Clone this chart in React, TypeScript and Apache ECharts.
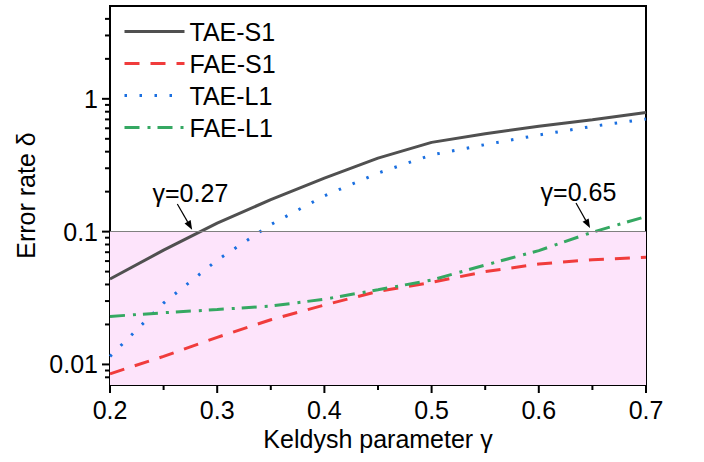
import React, { useEffect, useRef } from "react";
import * as echarts from "echarts";

const gammaValues = [0.2, 0.25, 0.3, 0.35, 0.4, 0.45, 0.5, 0.55, 0.6, 0.65, 0.7];
const taeS1 = [0.044, 0.0725, 0.116, 0.174, 0.253, 0.358, 0.47, 0.546, 0.621, 0.695, 0.79];
const faeS1 = [0.0085, 0.0115, 0.016, 0.0217, 0.028, 0.0355, 0.0415, 0.05, 0.057, 0.0615, 0.064];
const taeL1 = [0.0115, 0.029, 0.061, 0.113, 0.186, 0.276, 0.378, 0.452, 0.534, 0.62, 0.705];
const faeL1 = [0.023, 0.0245, 0.0259, 0.0275, 0.031, 0.0365, 0.0432, 0.056, 0.072, 0.099, 0.13];

const seriesNames = ["TAE-S1", "FAE-S1", "TAE-L1", "FAE-L1"];
const yMinValue = 0.007;
const yMaxValue = 5;
const thresholdValue = 0.1;
const majorTicks = [0.01, 0.1, 1];
const minorTicks = [0.008, 0.009, 0.02, 0.03, 0.04, 0.05, 0.06, 0.07, 0.08, 0.09, 0.2, 0.3, 0.4, 0.5, 0.6, 0.7, 0.8, 0.9, 2, 3, 4];
const xMajorTicks = [0.2, 0.3, 0.4, 0.5, 0.6, 0.7];
const xMinorTicks = [0.25, 0.35, 0.45, 0.55, 0.65];
const annotations = [
  { text: "γ=0.27", labelAt: [0.275, 0.195], from: [0.2628, 0.1615], to: [0.2766, 0.1035] },
  { text: "γ=0.65", labelAt: [0.637, 0.2], from: [0.6347, 0.1645], to: [0.6478, 0.1066] },
];

const FONT = "'Liberation Sans', Arial, sans-serif";
const FS = 25;
const lg = (v: number) => Math.log10(v);

export default function App() {
  const ref = useRef<HTMLDivElement>(null);
  useEffect(() => {
    if (!ref.current) return;
    const chart = echarts.init(ref.current, null, { renderer: "svg" });
    const toData = (arr: number[]) => gammaValues.map((g, i) => [g, lg(arr[i])]);
    const styles = [
      { color: "#505050", type: "solid" as any },
      { color: "#f03c3c", type: [15, 11] as any },
      { color: "#1a6fe0", type: [2.5, 12.5] as any },
      { color: "#35a862", type: [15, 8, 3, 7] as any },
    ];
    const datasets = [taeS1, faeS1, taeL1, faeL1];
    const option: any = {
      animation: false,
      backgroundColor: "#fff",
      textStyle: { fontFamily: FONT },
      grid: { left: 110, right: 58, top: 6, bottom: 77, show: true, borderColor: "#000", borderWidth: 2 },
      legend: {
        show: true,
        orient: "vertical",
        left: 118,
        top: 14,
        itemWidth: 60,
        itemHeight: 14,
        itemGap: 7,
        itemStyle: { opacity: 0 },
        lineStyle: { width: 3 },
        textStyle: { fontSize: FS, color: "#000", fontFamily: FONT },
        data: seriesNames,
      },
      xAxis: {
        type: "value",
        min: 0.2,
        max: 0.7,
        interval: 0.1,
        name: "Keldysh parameter γ",
        nameLocation: "middle",
        nameGap: 40,
        nameTextStyle: { fontSize: FS, color: "#000", fontFamily: FONT },
        axisLine: { show: true, onZero: false, lineStyle: { color: "#000", width: 2 } },
        axisTick: { show: false },
        axisLabel: { fontSize: FS, color: "#000", margin: 12, fontFamily: FONT, formatter: (v: number) => v.toFixed(1) },
        splitLine: { show: false },
      },
      yAxis: {
        type: "value",
        min: lg(yMinValue),
        max: lg(yMaxValue),
        name: "Error rate δ",
        nameLocation: "middle",
        nameGap: 72,
        nameTextStyle: { fontSize: FS, color: "#000", fontFamily: FONT },
        axisLine: { show: true, onZero: false, lineStyle: { color: "#000", width: 2 } },
        axisTick: { show: false },
        axisLabel: {
          fontSize: FS,
          color: "#000",
          margin: 12,
          fontFamily: FONT,
          customValues: majorTicks.map(lg),
          formatter: (v: number) => {
            const r = Math.round(v);
            return String(majorTicks.find((m) => Math.round(lg(m)) === r) ?? "");
          },
        },
        splitLine: { show: false },
      },
      series: [
        {
          name: "_region",
          type: "line",
          data: [],
          z: 1,
          silent: true,
          markArea: {
            silent: true,
            itemStyle: { color: "#fde4fb", opacity: 1 },
            data: [[{ yAxis: lg(yMinValue) }, { yAxis: lg(thresholdValue) }]],
          },
          markLine: {
            silent: true,
            symbol: "none",
            label: { show: false },
            lineStyle: { color: "#808080", width: 1, type: "solid" },
            data: [{ yAxis: lg(thresholdValue) }],
          },
        },
        ...seriesNames.map((name, i) => ({
          name,
          type: "line",
          z: 3,
          showSymbol: false,
          symbol: "none",
          data: toData(datasets[i]),
          lineStyle: { color: styles[i].color, width: 3, type: styles[i].type },
          itemStyle: { color: styles[i].color },
        })),
      ],
    };
    chart.setOption(option);

    const graphics: any[] = [];
    const px = (x: number, y: number) => chart.convertToPixel({ gridIndex: 0 } as any, [x, y]) as number[];
    const tickStyle = { stroke: "#000", lineWidth: 2 };
    const yBase = lg(yMinValue);
    xMajorTicks.forEach((v) => {
      const p = px(v, yBase);
      graphics.push({ type: "line", z: 10, shape: { x1: p[0], y1: p[1], x2: p[0], y2: p[1] + 8 }, style: tickStyle });
    });
    xMinorTicks.forEach((v) => {
      const p = px(v, yBase);
      graphics.push({ type: "line", z: 10, shape: { x1: p[0], y1: p[1], x2: p[0], y2: p[1] + 5 }, style: tickStyle });
    });
    majorTicks.forEach((v) => {
      const p = px(0.2, lg(v));
      graphics.push({ type: "line", z: 10, shape: { x1: p[0], y1: p[1], x2: p[0] - 8, y2: p[1] }, style: tickStyle });
    });
    minorTicks.forEach((v) => {
      const p = px(0.2, lg(v));
      graphics.push({ type: "line", z: 10, shape: { x1: p[0], y1: p[1], x2: p[0] - 5, y2: p[1] }, style: tickStyle });
    });
    annotations.forEach((a) => {
      const p = px(a.labelAt[0], lg(a.labelAt[1]));
      const f = px(a.from[0], lg(a.from[1]));
      const t = px(a.to[0], lg(a.to[1]));
      graphics.push({
        type: "text",
        x: p[0],
        y: p[1],
        z: 10,
        style: { text: a.text, fontSize: FS, fill: "#000", fontFamily: FONT, align: "center", verticalAlign: "middle" },
      });
      const dx = t[0] - f[0];
      const dy = t[1] - f[1];
      const len = Math.sqrt(dx * dx + dy * dy);
      const ux = dx / len, uy = dy / len;
      const headLen = 9, headW = 3.5;
      const bx = t[0] - ux * headLen, by = t[1] - uy * headLen;
      graphics.push({
        type: "line",
        z: 10,
        shape: { x1: f[0], y1: f[1], x2: bx, y2: by },
        style: { stroke: "#000", lineWidth: 1.2 },
      });
      graphics.push({
        type: "polygon",
        z: 10,
        shape: { points: [[t[0], t[1]], [bx - uy * headW, by + ux * headW], [bx + uy * headW, by - ux * headW]] },
        style: { fill: "#000" },
      });
    });
    chart.setOption({ graphic: graphics });
    return () => chart.dispose();
  }, []);
  return <div ref={ref} style={{ position: "fixed", left: 0, top: 0, width: 704, height: 462 }} />;
}
